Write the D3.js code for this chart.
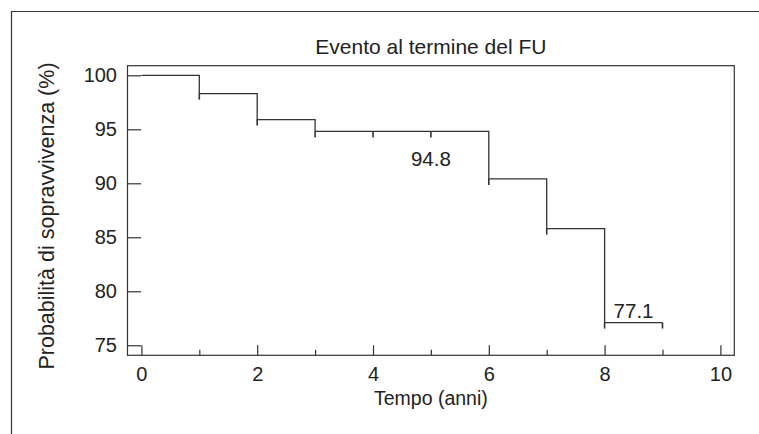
<!DOCTYPE html>
<html>
<head>
<meta charset="utf-8">
<script src="https://cdn.jsdelivr.net/npm/d3@7"></script>
<style>
  body { margin: 0; background: #fff; }
  svg text { font-family: "Liberation Sans", Arial, sans-serif; fill: #222; }
</style>
</head>
<body>
<svg id="km" width="759" height="434"></svg>
<script>
// Kaplan-Meier step data
var times = [0, 1, 2, 3, 6, 7, 8];
var survival = [100, 98.3, 95.9, 94.8, 90.4, 85.8, 77.1];
var endTime = 9;
var censorTimes = [1, 2, 3, 4, 5, 6, 7, 8, 9];
var xMajorTicks = [0, 2, 4, 6, 8, 10];
var xMinorTicks = [1, 3, 5, 7, 9];
var yTicks = [75, 80, 85, 90, 95, 100];
var notes = [{t: 5, v: "94.8", s: 94.8, dy: 34.2}, {t: 8.5, v: "77.1", s: 77.1, dy: -5}];

var svg = d3.select("svg#km");
var box = {left: 127.5, right: 734.3, top: 65.7, bottom: 355.3};

var x = d3.scaleLinear().domain([-0.24, 10.24]).range([box.left, box.right]);
var y = d3.scaleLinear().domain([74.07, 100.89]).range([box.bottom, box.top]);

// outer frame (only top and left edges visible)
svg.append("path")
    .attr("d", "M11.5,434V11.5H759")
    .attr("fill", "none")
    .attr("stroke", "#333")
    .attr("stroke-width", 1.2);

// plot box
svg.append("rect")
    .attr("x", box.left).attr("y", box.top)
    .attr("width", box.right - box.left).attr("height", box.bottom - box.top)
    .attr("fill", "none").attr("stroke", "#333").attr("stroke-width", 1.2);

// x axis, ticks pointing inward
svg.append("g")
    .attr("transform", "translate(0," + box.bottom + ")")
    .call(d3.axisBottom(x).tickValues(xMajorTicks).tickSize(-10).tickPadding(12).tickFormat(d3.format("d")));
svg.append("g")
    .attr("transform", "translate(0," + box.bottom + ")")
    .call(d3.axisBottom(x).tickValues(xMinorTicks).tickSize(-5.5).tickFormat(""));

// y axis
svg.append("g")
    .attr("transform", "translate(" + box.left + ",0)")
    .call(d3.axisLeft(y).tickValues(yTicks).tickSize(-13.5).tickPadding(10.5));

svg.selectAll(".domain").remove();
svg.selectAll(".tick line").attr("stroke", "#333").attr("stroke-width", 1.2);
svg.selectAll(".tick text").attr("font-size", "20px").attr("fill", "#222")
    .attr("font-family", "Liberation Sans, Arial, sans-serif");

// survival curve
var pts = times.map(function(t, i) { return [t, survival[i]]; });
pts.push([endTime, survival[survival.length - 1]]);
var line = d3.line()
    .x(function(d) { return x(d[0]); })
    .y(function(d) { return y(d[1]); })
    .curve(d3.curveStepAfter);
svg.append("path")
    .datum(pts)
    .attr("d", line)
    .attr("fill", "none")
    .attr("stroke", "#333")
    .attr("stroke-width", 1.3);

// censoring ticks below the curve
function survAt(t) {
  var s = survival[0];
  times.forEach(function(tt, i) { if (tt <= t) s = survival[i]; });
  return s;
}
svg.selectAll("line.censor")
    .data(censorTimes)
  .enter().append("line")
    .attr("class", "censor")
    .attr("x1", function(d) { return x(d); })
    .attr("x2", function(d) { return x(d); })
    .attr("y1", function(d) { return y(survAt(d)); })
    .attr("y2", function(d) { return y(survAt(d)) + 6; })
    .attr("stroke", "#333")
    .attr("stroke-width", 1.6);

// value notes
svg.selectAll("text.note")
    .data(notes)
  .enter().append("text")
    .attr("class", "note")
    .attr("x", function(d) { return x(d.t); })
    .attr("y", function(d) { return y(d.s) + d.dy; })
    .attr("text-anchor", "middle")
    .attr("font-size", "20.5px")
    .text(function(d) { return d.v; });

// title and axis labels
svg.append("text")
    .attr("x", (box.left + box.right) / 2)
    .attr("y", 54)
    .attr("text-anchor", "middle")
    .attr("font-size", "21px")
    .text("Evento al termine del FU");

svg.append("text")
    .attr("x", (box.left + box.right) / 2)
    .attr("y", 405)
    .attr("text-anchor", "middle")
    .attr("font-size", "19.5px")
    .text("Tempo (anni)");

svg.append("text")
    .attr("transform", "translate(54,216) rotate(-90)")
    .attr("text-anchor", "middle")
    .attr("font-size", "21.5px")
    .text("Probabilità di sopravvivenza (%)");
</script>
</body>
</html>
